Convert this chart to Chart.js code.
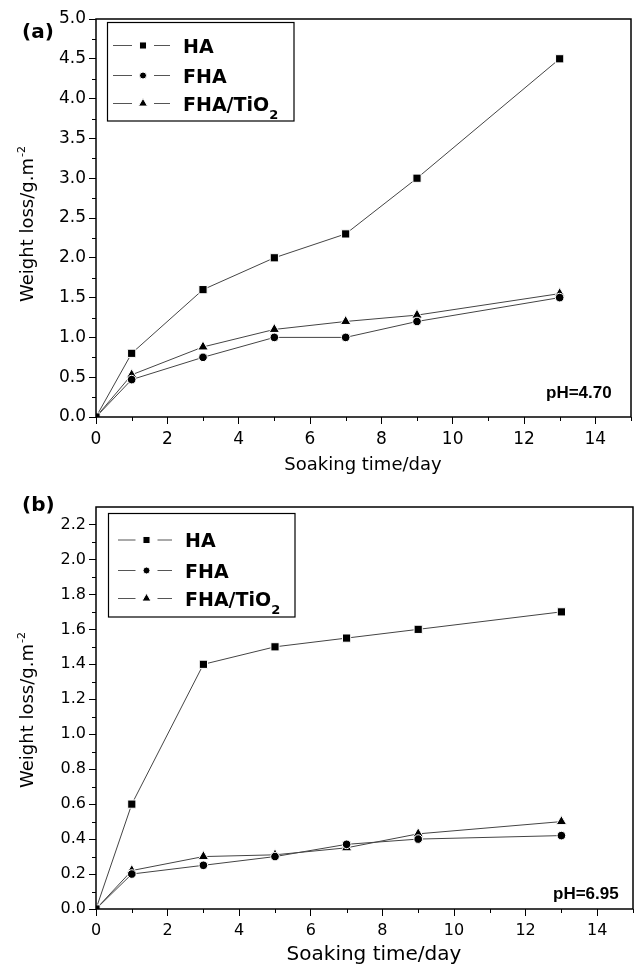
<!DOCTYPE html>
<html lang="en">
<head>
<meta charset="UTF-8">
<title>Weight loss vs soaking time</title>
<script src="https://cdn.jsdelivr.net/npm/chart.js"></script>
<style>
  html, body { margin: 0; padding: 0; background: #fff; }
  #wrap { position: relative; width: 640px; height: 971px; }
  #chartA { position: absolute; left: 0; top: 0; }
  #chartB { position: absolute; left: 0; top: 480px; }
</style>
</head>
<body>
<div id="wrap">
  <canvas id="chartA" width="640" height="480"></canvas>
  <canvas id="chartB" width="640" height="491"></canvas>
</div>
<script>
// soaking times (days)
const days = [0, 1, 3, 5, 7, 9, 13];
const seriesNames = ['HA', 'FHA', 'FHA/TiO2'];

// (a) pH = 4.70, weight loss g.m-2
const haAcid = [0, 0.8, 1.6, 2.0, 2.3, 3.0, 4.5];
const fhaAcid = [0, 0.47, 0.75, 1.0, 1.0, 1.2, 1.5];
const fhaTiAcid = [0, 0.53, 0.88, 1.1, 1.2, 1.28, 1.55];

// (b) pH = 6.95
const haNeutral = [0, 0.6, 1.4, 1.5, 1.55, 1.6, 1.7];
const fhaNeutral = [0, 0.2, 0.25, 0.3, 0.37, 0.4, 0.42];
const fhaTiNeutral = [0, 0.22, 0.3, 0.31, 0.35, 0.43, 0.5];

// axis ticks
const xTickValues = [0, 2, 4, 6, 8, 10, 12, 14];
const xMinorValues = [1, 3, 5, 7, 9, 11, 13, 15];
const yTicksA = [0, 0.5, 1.0, 1.5, 2.0, 2.5, 3.0, 3.5, 4.0, 4.5, 5.0];
const yMinorA = [0.25, 0.75, 1.25, 1.75, 2.25, 2.75, 3.25, 3.75, 4.25, 4.75];
const yTicksB = [0, 0.2, 0.4, 0.6, 0.8, 1.0, 1.2, 1.4, 1.6, 1.8, 2.0, 2.2];
const yMinorB = [0.1, 0.3, 0.5, 0.7, 0.9, 1.1, 1.3, 1.5, 1.7, 1.9, 2.1];

const markers = [
  { pointStyle: 'rect', radius: 5.8 },
  { pointStyle: 'circle', radius: 4.3 },
  { pointStyle: 'triangle', radius: 6 }
];

function buildDatasets(list) {
  return list.map((vals, i) => ({
    label: seriesNames[i],
    data: days.map((d, k) => ({ x: d, y: vals[k] })),
    borderColor: '#444',
    borderWidth: 1,
    pointStyle: markers[i].pointStyle,
    pointRadius: markers[i].radius,
    pointHoverRadius: markers[i].radius,
    pointBackgroundColor: '#000',
    pointBorderColor: '#fff',
    pointBorderWidth: 1,
    tension: 0
  }));
}

function drawText(ctx, text, x, y, font, align) {
  ctx.font = font;
  ctx.textAlign = align || 'left';
  ctx.textBaseline = 'alphabetic';
  ctx.fillText(text, x, y);
}

const decor = {
  id: 'decor',
  afterDraw(chart, args, o) {
    const ctx = chart.ctx;
    const a = chart.chartArea;
    const xs = chart.scales.x, ys = chart.scales.y;
    ctx.save();
    ctx.strokeStyle = '#000';
    ctx.fillStyle = '#000';

    // minor ticks
    ctx.lineWidth = 1;
    ctx.beginPath();
    o.xMinor.forEach(v => {
      const px = Math.round(xs.getPixelForValue(v)) + 0.5;
      ctx.moveTo(px, a.bottom);
      ctx.lineTo(px, a.bottom + 4);
    });
    o.yMinor.forEach(v => {
      const py = Math.round(ys.getPixelForValue(v)) + 0.5;
      ctx.moveTo(a.left, py);
      ctx.lineTo(a.left - 4, py);
    });
    ctx.stroke();

    // frame
    ctx.lineWidth = 1.5;
    ctx.strokeRect(a.left, a.top, a.right - a.left, a.bottom - a.top);

    // panel label and pH note
    drawText(ctx, o.panel.text, o.panel.x, o.panel.y, 'bold 20px "DejaVu Sans"');
    drawText(ctx, o.ph.text, o.ph.x, o.ph.y, 'bold 17px "Liberation Sans"');

    // axis titles
    drawText(ctx, 'Soaking time/day', o.xTitle.x, o.xTitle.y, o.xTitle.size + 'px "DejaVu Sans"', 'center');
    ctx.save();
    ctx.translate(o.yTitle.x, o.yTitle.y);
    ctx.rotate(-Math.PI / 2);
    drawText(ctx, 'Weight loss/g.m', 0, 0, o.yTitle.size + 'px "DejaVu Sans"');
    const w = ctx.measureText('Weight loss/g.m').width;
    drawText(ctx, '-2', w + 1, -8, '11px "DejaVu Sans"');
    ctx.restore();

    // legend
    const L = o.legend;
    ctx.lineWidth = 1.2;
    ctx.strokeRect(L.left, L.top, L.right - L.left, L.bottom - L.top);
    chart.data.datasets.forEach((ds, i) => {
      const y = L.rows[i];
      ctx.strokeStyle = '#555';
      ctx.lineWidth = 1;
      ctx.beginPath();
      ctx.moveTo(L.lineX[0], y);
      ctx.lineTo(L.markX - 11, y);
      ctx.moveTo(L.markX + 11, y);
      ctx.lineTo(L.lineX[1], y);
      ctx.stroke();
      ctx.fillStyle = '#000';
      ctx.strokeStyle = '#fff';
      Chart.helpers.drawPoint(ctx, {
        pointStyle: ds.pointStyle, radius: ds.pointRadius - 0.8, rotation: 0, borderWidth: 1
      }, L.markX, y);
      ctx.fillStyle = '#000';
      const base = y + 7;
      if (ds.label === 'FHA/TiO2') {
        drawText(ctx, 'FHA/TiO', L.textX, base, 'bold 19px "DejaVu Sans"');
        const tw = ctx.measureText('FHA/TiO').width;
        drawText(ctx, '2', L.textX + tw, base + 8, 'bold 13px "DejaVu Sans"');
      } else {
        drawText(ctx, ds.label, L.textX, base, 'bold 19px "DejaVu Sans"');
      }
    });
    ctx.restore();
  }
};

function buildScales(yMax, yTicks, xHeight, fontSize) {
  const tickFont = { family: 'DejaVu Sans', size: fontSize };
  const grid = { drawOnChartArea: false, drawTicks: true, tickLength: 7, tickColor: '#000', tickWidth: 1 };
  return {
    x: {
      type: 'linear', min: 0, max: 15,
      afterBuildTicks: s => { s.ticks = xTickValues.map(v => ({ value: v })); },
      afterFit: s => { s.height = xHeight; },
      grid: grid,
      border: { display: false },
      ticks: { color: '#000', font: tickFont, padding: 5, maxRotation: 0, autoSkip: false, callback: v => String(v) }
    },
    y: {
      type: 'linear', min: 0, max: yMax,
      afterBuildTicks: s => { s.ticks = yTicks.map(v => ({ value: v })); },
      afterFit: s => { s.width = 96; },
      grid: grid,
      border: { display: false },
      ticks: { color: '#000', font: tickFont, padding: 3, autoSkip: false, callback: v => Number(v).toFixed(1) }
    }
  };
}

function makeChart(id, datasets, yMax, yTicks, pad, xHeight, fontSize, decorOpts) {
  return new Chart(document.getElementById(id), {
    type: 'line',
    data: { datasets: datasets },
    options: {
      responsive: false,
      animation: false,
      devicePixelRatio: 1,
      events: [],
      layout: { padding: pad },
      scales: buildScales(yMax, yTicks, xHeight, fontSize),
      plugins: {
        legend: { display: false },
        tooltip: { enabled: false },
        decor: decorOpts
      }
    },
    plugins: [decor]
  });
}

makeChart('chartA', buildDatasets([haAcid, fhaAcid, fhaTiAcid]), 5.0, yTicksA,
  { top: 19, right: 9, left: 0, bottom: 0 }, 63, 17, {
    xMinor: xMinorValues, yMinor: yMinorA,
    panel: { text: '(a)', x: 22, y: 37.5 },
    ph: { text: 'pH=4.70', x: 546, y: 397.5 },
    xTitle: { x: 363, y: 469.5, size: 18 },
    yTitle: { x: 33, y: 302, size: 18 },
    legend: { left: 107.5, top: 22.5, right: 294, bottom: 121, rows: [45.5, 75.5, 103.5], lineX: [113, 170], markX: 143, textX: 183 }
  });

makeChart('chartB', buildDatasets([haNeutral, fhaNeutral, fhaTiNeutral]), 2.3, yTicksB,
  { top: 27, right: 4, left: 0, bottom: 0 }, 62, 16, {
    xMinor: xMinorValues, yMinor: yMinorB,
    panel: { text: '(b)', x: 22, y: 30.8 },
    ph: { text: 'pH=6.95', x: 553, y: 418.5 },
    xTitle: { x: 374, y: 480, size: 20 },
    yTitle: { x: 33, y: 308, size: 18 },
    legend: { left: 108.5, top: 33.5, right: 295, bottom: 137, rows: [60, 90.5, 118.5], lineX: [118, 172], markX: 146.5, textX: 185 }
  });
</script>
</body>
</html>
